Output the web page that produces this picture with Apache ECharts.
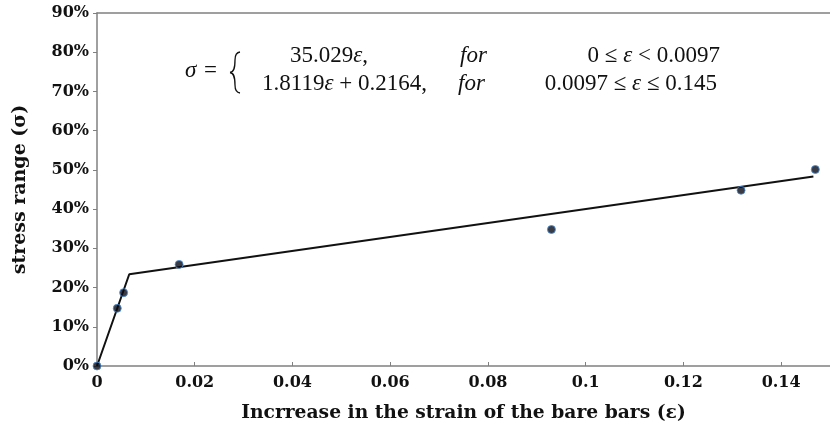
<!DOCTYPE html>
<html>
<head>
<meta charset="utf-8">
<script src="https://cdn.jsdelivr.net/npm/echarts@6/dist/echarts.min.js"></script>
<style>
  html, body { margin: 0; padding: 0; background: #fff; }
  #chart { width: 830px; height: 432px; }
</style>
</head>
<body>
<div id="chart"></div>
<script>
// measured points (strain, stress)
const strainPoints = [0, 0.00415, 0.00545, 0.0168, 0.093, 0.1318, 0.147];
const stressPoints = [0, 0.147, 0.187, 0.259, 0.348, 0.448, 0.501];

// bilinear fit drawn in the figure
const fitStrain = [0, 0.0066, 0.1466];
const fitStress = [0, 0.234, 0.483];

const xTicks = [0, 0.02, 0.04, 0.06, 0.08, 0.1, 0.12, 0.14];

const serif = '"DejaVu Serif", "Liberation Serif", serif';
const mathFont = '"Liberation Serif", "DejaVu Serif", serif';

const chart = echarts.init(document.getElementById('chart'));

const pointData = strainPoints.map((x, i) => [x, stressPoints[i]]);
const fitData = fitStrain.map((x, i) => [x, fitStress[i]]);

// one piece of the formula, {i|..} parts are italic
function mathText(x, y, text, align) {
  return {
    type: 'text',
    x: x,
    y: y,
    style: {
      text: text,
      font: '23px ' + mathFont,
      fill: '#111',
      align: align || 'left',
      verticalAlign: 'middle',
      rich: {
        n: { fontFamily: mathFont, fontSize: 23, color: '#111' },
        i: { fontFamily: mathFont, fontSize: 23, fontStyle: 'italic', color: '#111' }
      }
    }
  };
}

// the curly brace, four cubic pieces
function bracePiece(x1, y1, cpx1, cpy1, cpx2, cpy2, x2, y2) {
  return {
    type: 'bezierCurve',
    shape: { x1, y1, cpx1, cpy1, cpx2, cpy2, x2, y2 },
    style: { fill: 'none', stroke: '#111', lineWidth: 1.3 }
  };
}

chart.setOption({
  animation: false,
  grid: { left: 97, right: -1, top: 13, bottom: 66 },
  xAxis: [{
    type: 'value',
    min: 0,
    max: 0.15,
    interval: 0.02,
    name: 'Incrrease in the strain of the bare bars (\u03b5)',
    nameLocation: 'middle',
    nameGap: 38,
    nameTextStyle: { fontFamily: serif, fontWeight: 'bold', fontSize: 18.7, color: '#111' },
    axisLine: { lineStyle: { color: '#808080', width: 1.5 } },
    axisTick: { inside: true, length: 4, lineStyle: { color: '#808080' } },
    splitLine: { show: false },
    axisLabel: {
      fontFamily: serif, fontWeight: 'bold', fontSize: 16, color: '#111', margin: 9,
      showMaxLabel: false,
      formatter: v => {
        const t = xTicks.find(k => Math.abs(k - v) < 1e-9);
        return t === undefined ? '' : String(+t.toFixed(2));
      }
    }
  }, {
    type: 'value',
    position: 'top',
    min: 0,
    max: 0.15,
    axisLine: { show: true, lineStyle: { color: '#808080', width: 1.5 } },
    axisTick: { show: false },
    axisLabel: { show: false },
    splitLine: { show: false }
  }],
  yAxis: {
    type: 'value',
    min: 0,
    max: 0.9,
    interval: 0.1,
    name: 'stress range (\u03c3)',
    nameLocation: 'middle',
    nameGap: 67,
    nameTextStyle: { fontFamily: serif, fontWeight: 'bold', fontSize: 19, color: '#111' },
    axisLine: { show: true, lineStyle: { color: '#808080', width: 1.5 } },
    axisTick: { show: true, length: 4, lineStyle: { color: '#808080' } },
    splitLine: { show: false },
    axisLabel: {
      fontFamily: serif, fontWeight: 'bold', fontSize: 16, color: '#111', margin: 8,
      formatter: v => Math.round(v * 100) + '%'
    }
  },
  series: [{
    type: 'line',
    data: fitData,
    symbol: 'none',
    lineStyle: { color: '#111', width: 2 },
    z: 2
  }, {
    type: 'scatter',
    data: pointData,
    symbolSize: 8,
    itemStyle: { color: '#0a0a14', borderColor: '#4a8fd8', borderWidth: 1 },
    z: 3
  }],
  graphic: [
    mathText(185, 71, '{i|\u03c3}'),
    mathText(204, 71, '{n|=}'),
    bracePiece(240, 52, 236, 52.5, 235, 55, 235, 60),
    bracePiece(235, 60, 235, 68, 234, 72, 230, 72.5),
    bracePiece(230, 72.5, 234, 73, 235, 77, 235, 85),
    bracePiece(235, 85, 235, 90, 236, 92.5, 240, 93),
    mathText(290, 56, '{n|35.029}{i|\u03b5},'),
    mathText(460, 56, '{i|for}'),
    mathText(720, 56, '{n|0 \u2264 }{i|\u03b5}{n| < 0.0097}', 'right'),
    mathText(262, 84, '{n|1.8119}{i|\u03b5}{n| + 0.2164,}'),
    mathText(458, 84, '{i|for}'),
    mathText(717, 84, '{n|0.0097 \u2264 }{i|\u03b5}{n| \u2264 0.145}', 'right')
  ]
});
</script>
</body>
</html>
